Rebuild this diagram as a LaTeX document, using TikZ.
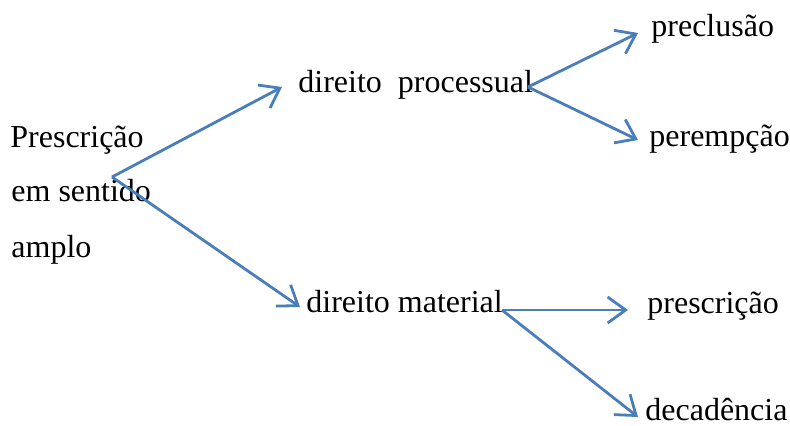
\documentclass[tikz,border=0pt]{standalone}
\usepackage{fontspec}
\setmainfont{Liberation Serif}
\usetikzlibrary{arrows.meta,positioning}
\definecolor{arrowblue}{RGB}{74,126,187}

\begin{document}
\begin{tikzpicture}[x=0.5pt,y=-0.5pt,
    term/.style={anchor=base west, inner sep=0pt, font=\fontsize{16}{19}\selectfont},
    branch/.style={draw=arrowblue, line width=1.4pt, -{Straight Barb[length=9pt,width=13pt]}}]
    \useasboundingbox (0,0) rectangle (790,425);

    % left block, three lines
    \node[term] (pres) at (10,147) {Prescrição};
    \node[term] (sent) at (11,201) {em sentido};
    \node[term] (ampl) at (11,257) {amplo};

    % middle level
    \node[term] (proc) at (298,92) {direito\ \ processual};
    \node[term] (mat) at (306,312) {direito material};

    % right level
    \node[term] (precl) at (651,36) {preclusão};
    \node[term] (peremp) at (649,146) {perempção};
    \node[term] (prescr) at (647,313) {prescrição};
    \node[term] (decad) at (645,420) {decadência};

    % fork points
    \coordinate (root) at (112,177);
    \coordinate (procfork) at (528,87);
    \coordinate (matfork) at (502,310);

    % arrows
    \draw[branch] (root) -- ([shift={(-16,-5)}]proc.base west);
    \draw[branch] (root) -- ([shift={(-6,-5)}]mat.base west);
    \draw[branch] (procfork) -- ([shift={(-13,-3)}]precl.base west);
    \draw[branch] (procfork) -- ([shift={(-11,-6)}]peremp.base west);
    \draw[branch] (matfork) -- ([shift={(-19,-3)}]prescr.base west);
    \draw[branch] (matfork) -- ([shift={(-7,-3)}]decad.base west);
\end{tikzpicture}
\end{document}
